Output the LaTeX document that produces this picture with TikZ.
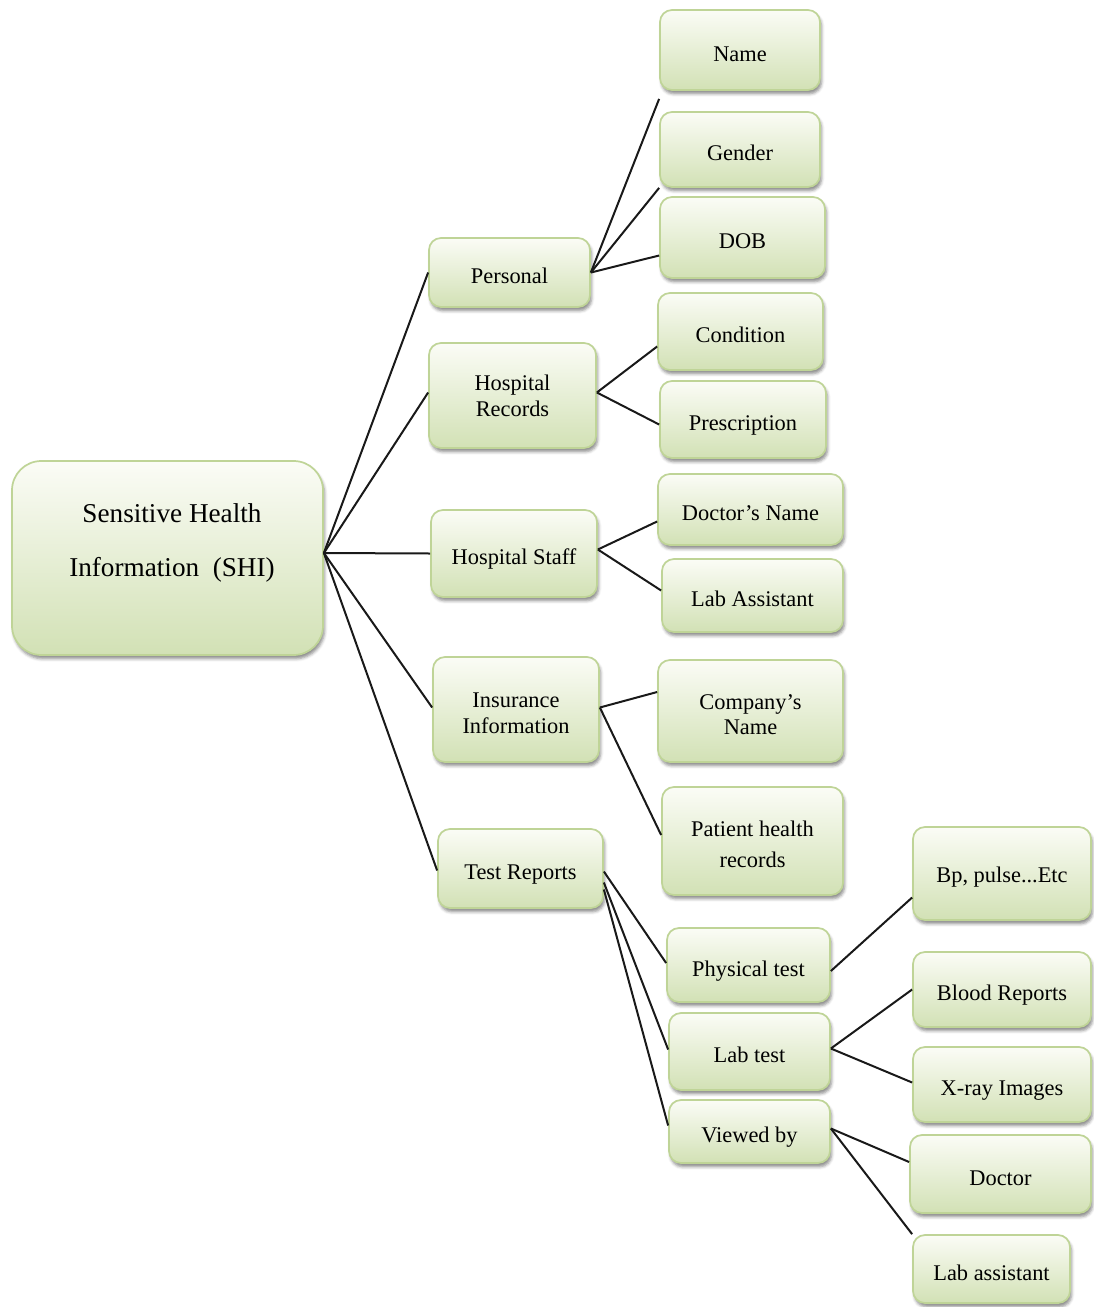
\documentclass[tikz,border=0pt]{standalone}
\usepackage{fontspec}
\setmainfont{Liberation Serif}
\usetikzlibrary{calc,shadows.blur}
\definecolor{boxtop}{HTML}{FBFCF6}
\definecolor{boxbot}{HTML}{D2E1B5}
\definecolor{boxline}{HTML}{BFD497}
% strut that lowers the first line of a two-line card
\newcommand\firstline{\rule{0pt}{16.5pt}}
\tikzset{
  cardbase/.style 2 args={draw=boxline, line width=1.3pt, rounded corners=9pt,
    top color=boxtop, bottom color=boxbot,
    minimum width=#1*0.75pt, minimum height=#2*0.75pt,
    align=center, inner sep=0pt,
    font=\fontsize{16.8}{19.5}\selectfont,
    blur shadow={shadow xshift=1.2pt, shadow yshift=-2.8pt,
      shadow opacity=45, shadow blur radius=2.2pt}},
  % one-line cards: fixed text box so the baseline sits a little low
  card/.style 2 args={cardbase={#1}{#2}, text height=21pt, text depth=4pt},
  % two-line cards: natural height
  twoline/.style 2 args={cardbase={#1}{#2}},
  link/.style={draw=black!90, line width=1.5pt},
}
\begin{document}
\begin{tikzpicture}[x=0.75pt,y=-0.75pt]
\useasboundingbox (0,0) rectangle (1093,1307);

% root
\node[cardbase={311}{194}, rounded corners=22pt] (shi) at (167.5,558) {};
\node[font=\fontsize{20.4}{40}\selectfont, align=center] (shitext) at (172,543)
  {Sensitive Health\\Information~ (SHI)};

% first level
\node[card={161}{69}]     (personal)  at (509.5,272.5) {Personal};
\node[twoline={167}{105}] (hosprec)   at (512.5,395.5) {Hospital\\Records};
\node[card={166}{87}]     (hospstaff) at (514,553.5)   {Hospital Staff};
\node[twoline={166}{105}] (insur)     at (516,709.5)   {\firstline Insurance\\Information};
\node[card={165}{79}]     (testrep)   at (520.5,868.5) {Test Reports};

% second level
\node[card={160}{80}]  (name)      at (740,50)      {Name};
\node[card={160}{75}]  (gender)    at (740,149.5)   {Gender};
\node[card={165}{81}]  (dob)       at (742.5,237.5) {DOB};
\node[card={165}{77}]  (condition) at (740.5,331.5) {Condition};
\node[card={166}{77}]  (prescr)    at (743,419.5)   {Prescription};
\node[card={185}{71}]  (docname)   at (750.5,509.5) {Doctor’s Name};
\node[card={181}{73}]  (labasst)   at (752.5,595.5) {Lab Assistant};
\node[twoline={185}{102}, font=\fontsize{16.8}{18.8}\selectfont]
                       (compname)  at (750.5,711)   {\firstline Company’s\\Name};
\node[twoline={181}{108}, font=\fontsize{16.8}{23.2}\selectfont]
                       (patient)   at (752.5,841)   {\firstline Patient health\\records};
\node[card={163}{74}]  (physical)  at (748.5,965)   {Physical test};
\node[card={161}{77}]  (labtest)   at (749.5,1051.5) {Lab test};
\node[card={161}{63}]  (viewed)    at (749.5,1131.5) {Viewed by};

% third level
\node[card={178}{93}, text height=17pt] (bp) at (1002,873.5) {Bp, pulse...Etc};
\node[card={178}{75}]  (blood)     at (1002,989.5)  {Blood Reports};
\node[card={178}{75}]  (xray)      at (1002,1084.5) {X-ray Images};
\node[card={181}{78}]  (doctor)    at (1000.5,1174) {Doctor};
\node[card={157}{68}]  (labasst2)  at (991.5,1269)  {Lab assistant};

% connectors
\coordinate (root) at ($(shi.east)+(0,-5)$);
\draw[link] (root) -- (personal.west);
\draw[link] (root) -- ($(hosprec.west)+(0,-3)$);
\draw[link] (root) -- (hospstaff.west);
\draw[link] (root) -- ($(insur.west)+(0,-2)$);
\draw[link] (root) -- ($(testrep.west)+(0,2)$);

\draw[link] (personal.east) -- ($(name.south west)+(0,8)$);
\draw[link] (personal.east) -- (gender.south west);
\draw[link] (personal.east) -- ($(dob.west)+(0,18)$);

\draw[link] ($(hosprec.east)+(0,-3)$) -- ($(condition.west)+(0,15)$);
\draw[link] ($(hosprec.east)+(0,-3)$) -- ($(prescr.west)+(0,5)$);

\draw[link] ($(hospstaff.east)+(0,-4)$) -- ($(docname.west)+(0,12)$);
\draw[link] ($(hospstaff.east)+(0,-4)$) -- ($(labasst.west)+(0,-5)$);

\draw[link] ($(insur.east)+(0,-2)$) -- ($(compname.west)+(0,-19)$);
\draw[link] ($(insur.east)+(0,-2)$) -- ($(patient.west)+(0,-6)$);

\draw[link] ($(testrep.east)+(0,3)$)  -- ($(physical.west)+(0,-2)$);
\draw[link] ($(testrep.east)+(0,14)$) -- ($(labtest.west)+(0,-2)$);
\draw[link] ($(testrep.east)+(0,21)$) -- ($(viewed.west)+(0,-6)$);

\draw[link] ($(physical.east)+(0,6)$) -- ($(bp.west)+(0,24)$);
\draw[link] ($(labtest.east)+(0,-3)$) -- (blood.west);
\draw[link] ($(labtest.east)+(0,-3)$) -- ($(xray.west)+(0,-2)$);
\draw[link] ($(viewed.east)+(0,-3)$) -- ($(doctor.west)+(0,-12)$);
\draw[link] ($(viewed.east)+(0,-3)$) -- (labasst2.north west);
\end{tikzpicture}
\end{document}
